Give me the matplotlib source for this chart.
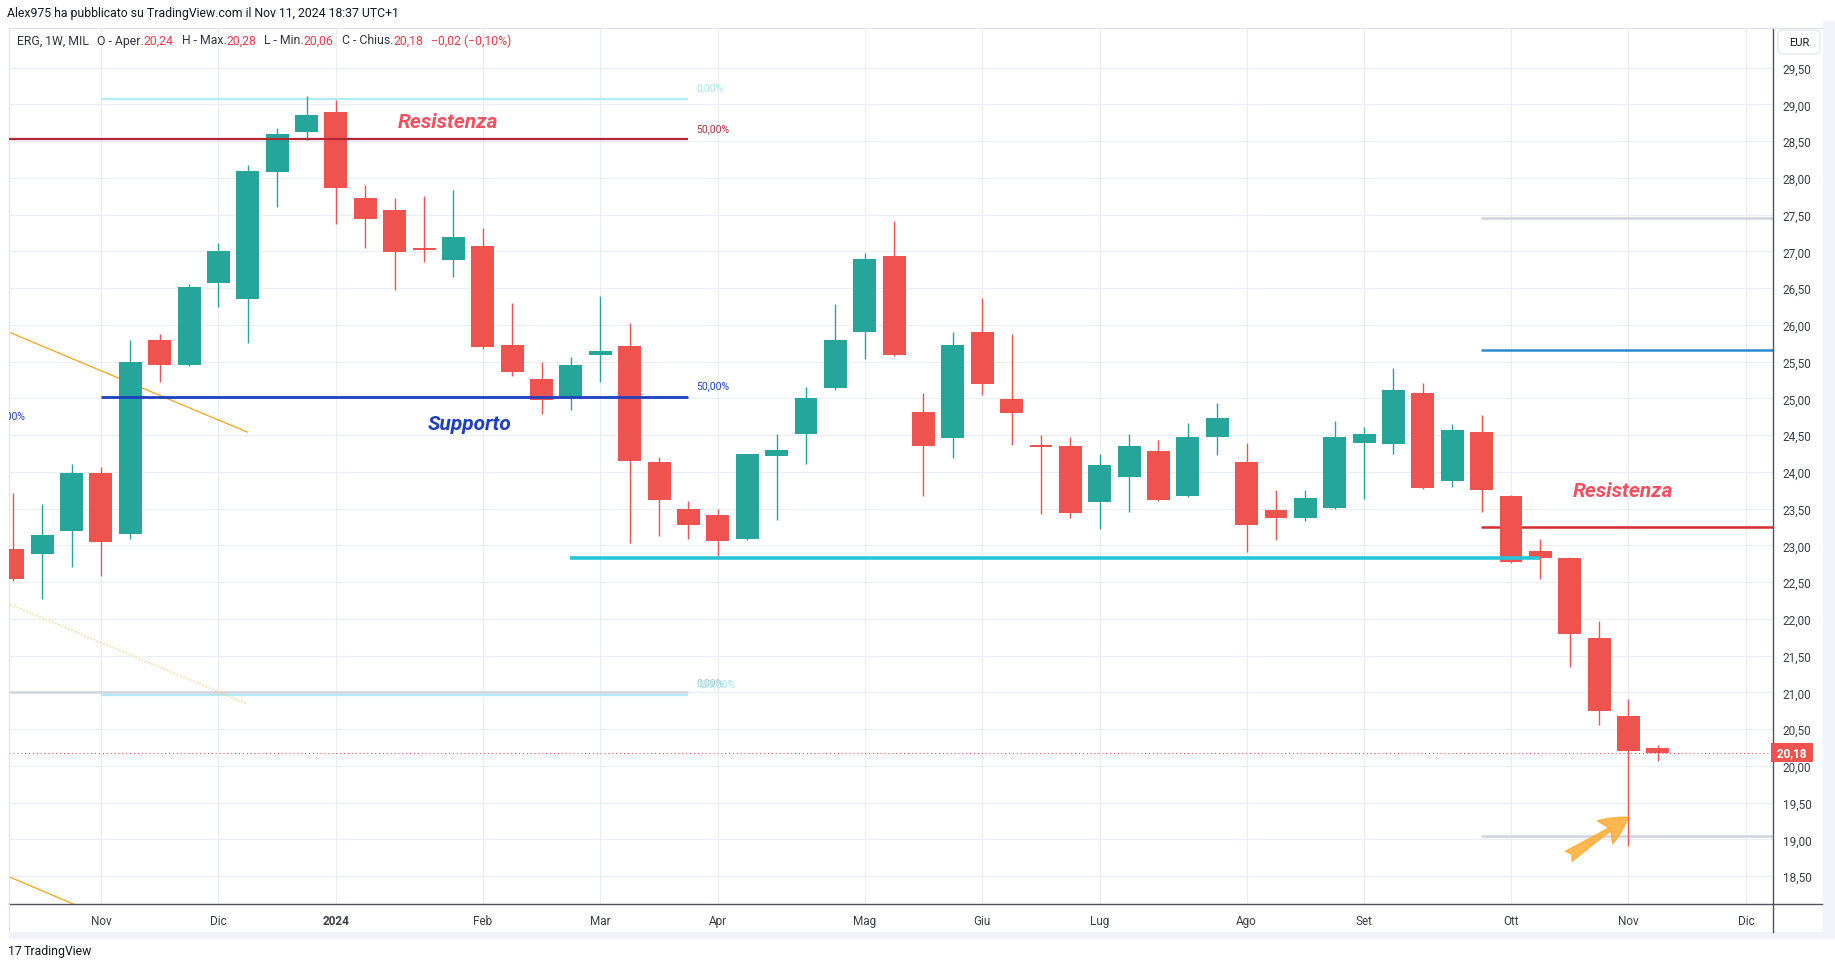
import matplotlib
matplotlib.use("Agg")
import matplotlib.pyplot as plt
import matplotlib.dates as mdates
import matplotlib.transforms as mtransforms
from matplotlib.patches import Rectangle, FancyBboxPatch
from matplotlib.lines import Line2D
import numpy as np
import pandas as pd

plt.rcParams['font.family'] = ['Roboto', 'DejaVu Sans']

# ERG, 1W, MIL - weekly bars from Oct 16 2023 to Nov 11 2024
weeks = pd.date_range("2023-10-16", periods=57, freq="W-MON")
opens = [22.95, 22.88, 23.20, 23.98, 23.15, 25.79, 25.45, 26.57, 26.35, 28.08,
         28.63, 28.90, 27.72, 27.57, 27.04, 26.88, 27.08, 25.72, 25.26, 25.01,
         25.59, 25.71, 24.14, 23.50, 23.41, 23.09, 24.22, 24.51, 25.14, 25.91,
         26.94, 24.81, 24.46, 25.90, 24.99, 24.36, 24.35, 23.59, 23.93, 24.28,
         23.67, 24.47, 24.14, 23.48, 23.37, 23.51, 24.39, 24.38, 25.07, 23.88,
         24.54, 23.67, 22.92, 22.83, 21.74, 20.68, 20.24]
highs = [23.71, 23.56, 24.11, 24.07, 25.79, 25.88, 26.56, 27.11, 28.17, 28.68,
         29.11, 29.06, 27.91, 27.72, 27.76, 27.83, 27.32, 26.30, 25.50, 25.56,
         26.39, 26.02, 24.20, 23.60, 23.50, 24.25, 24.52, 25.16, 26.28, 26.98,
         27.41, 25.08, 25.90, 26.36, 25.88, 24.50, 24.48, 24.24, 24.52, 24.43,
         24.66, 24.94, 24.39, 23.75, 23.75, 24.69, 24.61, 25.42, 25.21, 24.65,
         24.78, 23.68, 23.08, 22.84, 21.97, 20.91, 20.28]
lows = [22.52, 22.27, 22.71, 22.58, 23.08, 25.22, 25.44, 26.24, 25.76, 27.61,
        28.51, 27.37, 27.04, 26.47, 26.85, 26.65, 25.67, 25.30, 24.79, 24.84,
        25.22, 23.03, 23.13, 23.09, 22.84, 23.07, 23.34, 24.11, 25.11, 25.53,
        25.58, 23.67, 24.19, 25.04, 24.36, 23.43, 23.37, 23.22, 23.45, 23.60,
        23.66, 24.23, 22.91, 23.07, 23.33, 23.50, 23.63, 24.24, 23.77, 23.80,
        23.45, 22.76, 22.54, 21.34, 20.55, 18.91, 20.06]
closes = [22.54, 23.14, 23.98, 23.04, 25.49, 25.45, 26.52, 27.00, 28.09, 28.60,
          28.86, 27.86, 27.44, 26.99, 27.02, 27.19, 25.70, 25.36, 24.98, 25.46,
          25.64, 24.15, 23.62, 23.28, 23.06, 24.24, 24.30, 25.00, 25.79, 26.89,
          25.59, 24.35, 25.72, 25.19, 24.80, 24.34, 23.44, 24.09, 24.35, 23.62,
          24.48, 24.73, 23.28, 23.37, 23.64, 24.48, 24.52, 25.11, 23.78, 24.57,
          23.75, 22.77, 22.83, 21.80, 20.75, 20.20, 20.18]

month_ticks = ["2023-11-06", "2023-12-04", "2024-01-01", "2024-02-05", "2024-03-04",
               "2024-04-01", "2024-05-06", "2024-06-03", "2024-07-01", "2024-08-05",
               "2024-09-02", "2024-10-07", "2024-11-04", "2024-12-02"]
month_labels = ["Nov", "Dic", "2024", "Feb", "Mar", "Apr", "Mag", "Giu", "Lug",
                "Ago", "Set", "Ott", "Nov", "Dic"]
price_ticks = np.arange(18.5, 29.51, 0.5)
last_price = 20.18

GREEN = "#26a69a"
RED = "#ef5350"
TXT = "#131722"

W, H = 1835, 970
fig = plt.figure(figsize=(W / 100, H / 100), dpi=100)

L, R, T, B = 9, 1773, 29, 905
ax = fig.add_axes([L / W, 1 - B / H, (R - L) / W, (B - T) / H])

xs = mdates.date2num(weeks)
base = mdates.date2num(pd.Timestamp("2023-11-06"))


def wk(n):
    # position n weeks after the Nov 6 2023 bar
    return base + 7 * n


# candles
o = np.array(opens)
c = np.array(closes)
cols = [GREEN if cc >= oo else RED for oo, cc in zip(o, c)]
ax.vlines(xs, lows, highs, colors=cols, linewidth=1.0, zorder=3)
body = np.maximum(np.abs(c - o), 0.025)
ax.bar(xs, body, bottom=np.minimum(o, c), width=7 * 0.78, color=cols,
       linewidth=0, zorder=4)

x_left, x_right = wk(-3.13), wk(56.92)


def seg(p, w0, w1, color, lw, **kw):
    ax.plot([w0, w1], [p, p], color=color, lw=lw, solid_capstyle="butt", **kw)


# fib / support-resistance drawings (left part)
seg(29.08, wk(0), wk(20), "#b2ebf2", 1.6, zorder=2)
seg(28.53, x_left, wk(20), "#b22833", 1.6, zorder=5)
seg(25.02, wk(0), wk(20), "#1e40c0", 2.0, zorder=5)
seg(21.00, x_left, wk(20), "#d1d4dc", 1.8, zorder=2)
seg(20.96, wk(0), wk(20), "#b2ebf2", 1.6, zorder=2)
seg(22.83, wk(15.98), wk(49), "#26c6da", 2.6, zorder=5)

# right part horizontal lines
seg(27.455, wk(46.97), x_right, "#d1d4dc", 1.8, zorder=2)
seg(25.66, wk(46.97), x_right, "#2a8ad2", 1.8, zorder=2)
seg(23.25, wk(46.97), x_right, "#d32f2f", 1.8, zorder=2)
seg(19.05, wk(46.97), x_right, "#d1d4dc", 1.8, zorder=2)

# orange channel lines
ax.plot([wk(-3.3), wk(4.99)], [25.93, 24.54], color="#ff9800", lw=0.8, zorder=2)
ax.plot([wk(-3.3), wk(4.94)], [22.23, 20.85], color="#ffcc80", lw=1.0,
        ls=(0, (1, 1.5)), zorder=2)
ax.plot([wk(-3.3), wk(0)], [18.52, 17.96], color="#ff9800", lw=0.8, zorder=2)

# last price line
ax.axhline(last_price, color=RED, lw=0.8, ls=(0, (1, 2.5)), zorder=2)

# fib labels
lab = dict(fontsize=7.5, va="center", ha="left")
ax.text(wk(20.27), 29.24, "0,00%", color="#a6e4ec", **lab)
ax.text(wk(20.27), 28.68, "50,00%", color="#b22833", **lab)
ax.text(wk(20.27), 25.18, "50,00%", color="#1e40c0", **lab)
ax.text(wk(20.27), 21.14, "0,00%", color="#b8bcc6", **lab)
ax.text(wk(20.27), 21.12, "100,00%", color="#a6e4ec", **lab)
ax.text(wk(-2.58), 24.77, "100,00%", color="#1e40c0", fontsize=7.5, va="center",
        ha="right", clip_on=True)

# annotations
ann = dict(fontsize=15, fontweight="bold", fontstyle="italic", ha="center", va="center")
ax.text(wk(11.83), 28.77, "Resistenza", color="#f0505f", **ann)
ax.text(wk(12.55), 24.66, "Supporto", color="#1e40c0", **ann)
ax.text(wk(51.82), 23.74, "Resistenza", color="#f0505f", **ann)

ax.annotate("", xy=(wk(51.99), 19.30), xytext=(wk(49.97), 18.77),
            arrowprops=dict(arrowstyle="fancy,head_length=0.9,head_width=0.9,tail_width=0.4",
                            fc="#ffa726", ec="#ffa726", alpha=0.8, mutation_scale=22,
                            shrinkA=0, shrinkB=0), zorder=6)

# axes, ticks, grid
ax.set_xlim(x_left, x_right)
ax.set_ylim(18.12, 30.04)
ax.set_xticks(mdates.date2num(pd.to_datetime(month_ticks)))
ax.set_xticklabels(month_labels)
ax.get_xticklabels()[2].set_fontweight("bold")
ax.yaxis.tick_right()
ax.set_yticks(price_ticks)
ax.set_yticklabels([f"{v:.2f}".replace(".", ",") for v in price_ticks])
ax.tick_params(axis="both", length=0, labelsize=8.5, colors="#3b3f4a")
ax.tick_params(axis="x", pad=7)
ax.tick_params(axis="y", pad=7)
ax.grid(True, color="#e8eef4", lw=0.8, zorder=0)
ax.set_axisbelow(True)
for s in ("top", "left"):
    ax.spines[s].set_color("#e0e3eb")
for s in ("right", "bottom"):
    ax.spines[s].set_color("#50535e")
    ax.spines[s].set_linewidth(1.0)

# last price tag on the price scale
trans = mtransforms.blended_transform_factory(ax.transAxes, ax.transData)
ax.text(1.0008, last_price, " 20,18 ", transform=trans, color="white", fontsize=8.5,
        fontweight="bold", va="center", ha="left", clip_on=False, zorder=10,
        bbox=dict(boxstyle="square,pad=0.28", fc=RED, ec="none"))


def fpx(x, y):
    return x / W, 1 - y / H


# widget frame and scale borders
fig.add_artist(Line2D([R / W, R / W], [1 - B / H, 1 - 933 / H], color="#50535e", lw=1.0))
fig.add_artist(Line2D([R / W, 1822 / W], [1 - B / H, 1 - B / H], color="#50535e", lw=1.0))
fig.add_artist(Line2D([R / W, 1822 / W], [1 - T / H, 1 - T / H], color="#e0e3eb", lw=0.8))
fig.add_artist(Line2D([L / W, L / W], [1 - B / H, 1 - 933 / H], color="#e0e3eb", lw=0.8))
fig.add_artist(Rectangle(fpx(1823, 940), 12 / W, 918 / H, transform=fig.transFigure,
                         fc="#f0f3fa", ec="none"))
fig.add_artist(Rectangle(fpx(L, 940), (1835 - L) / W, 7 / H, transform=fig.transFigure,
                         fc="#f0f3fa", ec="none"))
fig.add_artist(FancyBboxPatch(fpx(1778, 55), 42 / W, 24 / H, transform=fig.transFigure,
                              boxstyle="round,pad=0,rounding_size=0.004",
                              fc="white", ec="#e0e3eb", lw=0.8))
fig.text(1799 / W, 1 - 43 / H, "EUR", fontsize=8, color=TXT, ha="center", va="center")

# header and legend line
renderer = fig.canvas.get_renderer()


def seq_text(x0, y0, parts, size):
    x = x0
    for s, col, gap in parts:
        t = fig.text(x / W, 1 - y0 / H, s, color=col, fontsize=size,
                     ha="left", va="center")
        x = t.get_window_extent(renderer=renderer).x1 + gap


seq_text(7, 14, [("Alex975 ha pubblicato su TradingView.com il Nov 11, 2024 18:37 UTC+1",
                  TXT, 0)], 8.8)
LR = "#f23645"
seq_text(17, 41, [("ERG, 1W, MIL", "#333642", 8), ("O - Aper.", "#333642", 0),
                  ("20,24", LR, 8), ("H - Max.", "#333642", 0), ("20,28", LR, 8),
                  ("L - Min.", "#333642", 0), ("20,06", LR, 8),
                  ("C - Chius.", "#333642", 0), ("20,18", LR, 8),
                  ("\u22120,02 (\u22120,10%)", LR, 0)], 8.8)

seq_text(8, 952, [("17", TXT, 2), ("TradingView", TXT, 0)], 8.8)

fig.savefig("out.png", dpi=100, facecolor="white")
